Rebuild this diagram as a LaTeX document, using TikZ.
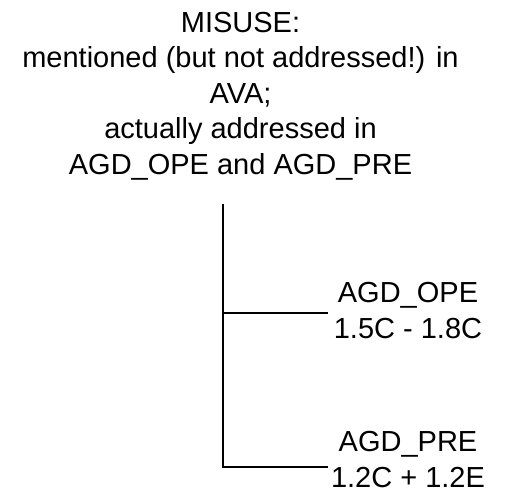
\documentclass[tikz,border=0pt]{standalone}
\usepackage{fontspec}
\setmainfont{Liberation Sans}
\begin{document}
\begin{tikzpicture}[x=1pt,y=1pt,
  lbl/.style={inner sep=0pt, align=center, font=\fontsize{29}{35.5}\selectfont},
  wire/.style={line width=2.8pt, black}]
\useasboundingbox (0,0) rectangle (510,-487);
\node[lbl, anchor=base] (title) at (240.5,-174) {MISUSE:\\mentioned (but not addressed!) in\\AVA;\\actually addressed in\\AGD\_OPE and AGD\_PRE};
\node[lbl, anchor=base] (ope) at (408,-338) {AGD\_OPE\\1.5C - 1.8C};
\node[lbl, anchor=base] (pre) at (408,-487) {AGD\_PRE\\1.2C + 1.2E};
\coordinate (vtop) at (223,-204);
\coordinate (j1) at (223,-313);
\coordinate (vbot) at (223,-467);
\coordinate (e1) at (328,-313);
\coordinate (e2) at (328,-467);
\draw[wire] (vtop) -- (vbot) -- (e2);
\draw[wire] (j1) -- (e1);
\end{tikzpicture}
\end{document}
